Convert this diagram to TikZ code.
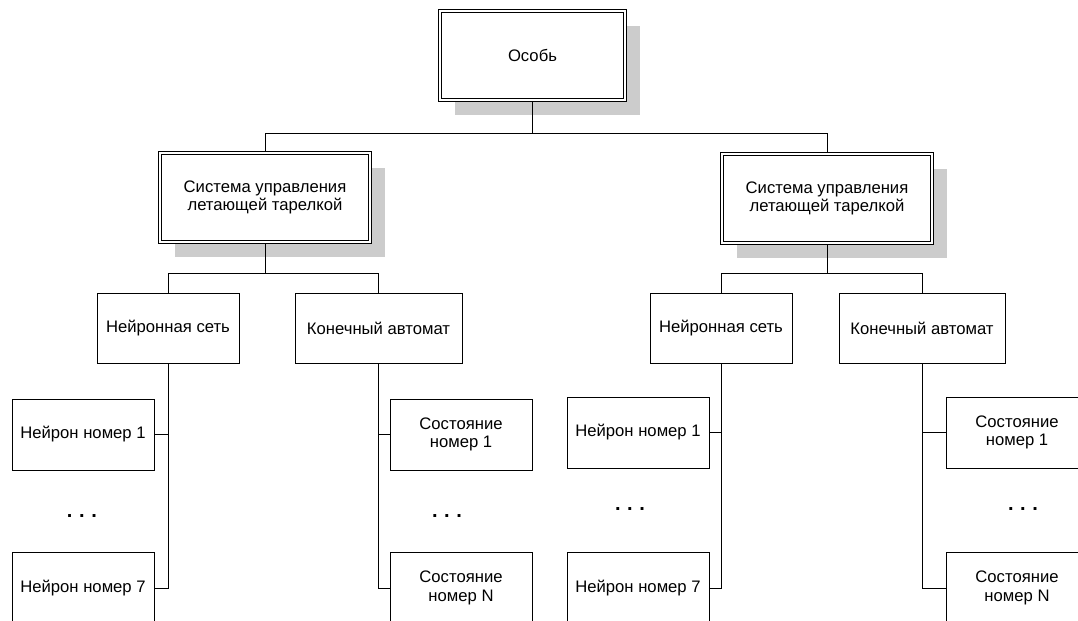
\documentclass[tikz,border=0pt]{standalone}
\usepackage{fontspec}
\setmainfont{Liberation Sans}
\usetikzlibrary{positioning}
\usetikzlibrary{shadows}
\tikzset{
    sysnode/.style = {rectangle, draw=black, line width=0.75pt, double, double distance=1.5pt, outer sep=1.5pt, fill=white, align=center, inner sep=0pt, minimum width=157.5pt, minimum height=66.75pt, drop shadow={shadow xshift=11.5pt, shadow yshift=-11.5pt, fill=black!20, opacity=1}},
    partnode/.style = {rectangle, draw=black, line width=0.75pt, fill=white, align=center, inner sep=0pt, minimum height=52.5pt},
    leafnode/.style = {rectangle, draw=black, line width=0.75pt, fill=white, align=center, inner sep=0pt, minimum width=106.5pt, minimum height=53.25pt},
    dotsnode/.style = {font=\fontsize{15}{15}\selectfont\bfseries, inner sep=0pt},
    edgen/.style = {-, line width=0.75pt, black}
}

\begin{document}
\begin{tikzpicture}[x=0.75pt, y=-0.75pt, font=\fontsize{12.5}{14}\selectfont]
  \useasboundingbox (0,0) rectangle (1078,621);
  \clip (0,0) rectangle (1078,621);
  % top
  \node[sysnode, minimum width=138.75pt] (osob) at (532.5,55.5) {Особь};
  \node[sysnode] (sysL) at (265,197.5) {Система управления\\летающей тарелкой};
  \node[sysnode] (sysR) at (827,198.5) {Система управления\\летающей тарелкой};
  % left half
  \node[partnode, minimum width=106.5pt] (netL) at (168,328) {Нейронная сеть};
  \node[partnode, minimum width=125.25pt] (fsaL) at (378.5,328) {Конечный автомат};
  \node[leafnode] (nL1) at (83,434.5) {Нейрон номер 1};
  \node[leafnode] (nL7) at (83,588) {Нейрон номер 7};
  \node[leafnode] (sL1) at (461,434.5) {Состояние\\номер 1};
  \node[leafnode] (sLN) at (461,588) {Состояние\\номер N};
  \node[dotsnode] (dL1) at (82,516) {.\,\,.\,\,.};
  \node[dotsnode] (dL2) at (447,516) {.\,\,.\,\,.};
  % right half
  \node[partnode, minimum width=106.5pt] (netR) at (721,328) {Нейронная сеть};
  \node[partnode, minimum width=124.5pt] (fsaR) at (922,328) {Конечный автомат};
  \node[leafnode] (nR1) at (638,432.5) {Нейрон номер 1};
  \node[leafnode] (nR7) at (638,588) {Нейрон номер 7};
  \node[leafnode] (sR1) at (1017,432.5) {Состояние\\номер 1};
  \node[leafnode] (sRN) at (1017,588) {Состояние\\номер N};
  \node[dotsnode] (dR1) at (630,509) {.\,\,.\,\,.};
  \node[dotsnode] (dR2) at (1023,509) {.\,\,.\,\,.};
  % connectors
  \draw[edgen] (osob.south) -- ++(0,31) -| (sysL.north);
  \draw[edgen] (osob.south) -- ++(0,31) -| (sysR.north);
  \draw[edgen] (sysL.south) -- ++(0,29) -| (netL.north);
  \draw[edgen] (sysL.south) -- ++(0,29) -| (fsaL.north);
  \draw[edgen] (sysR.south) -- ++(0,28) -| (netR.north);
  \draw[edgen] (sysR.south) -- ++(0,28) -| (fsaR.north);
  \draw[edgen] (netL.south) |- (nL1.east);
  \draw[edgen] (netL.south) |- (nL7.east);
  \draw[edgen] (fsaL.south) |- (sL1.west);
  \draw[edgen] (fsaL.south) |- (sLN.west);
  \draw[edgen] (netR.south) |- (nR1.east);
  \draw[edgen] (netR.south) |- (nR7.east);
  \draw[edgen] (fsaR.south) |- (sR1.west);
  \draw[edgen] (fsaR.south) |- (sRN.west);
\end{tikzpicture}
\end{document}
